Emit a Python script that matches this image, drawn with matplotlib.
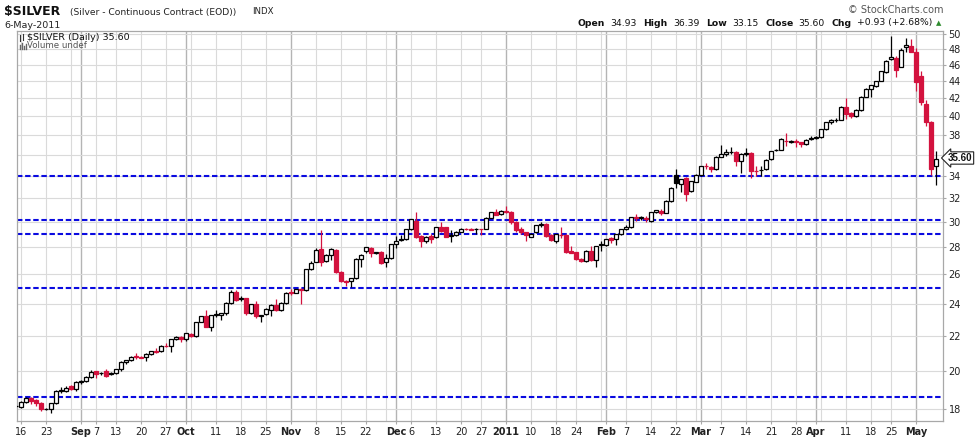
import matplotlib

matplotlib.use("Agg")
import matplotlib.pyplot as plt
import numpy as np
import pandas as pd
from matplotlib.lines import Line2D

# trading calendar (COMEX closes on these US holidays)
holidays = ["2010-09-06", "2010-11-25", "2010-12-24", "2011-01-17", "2011-02-21", "2011-04-22"]
dates = pd.bdate_range("2010-08-13", "2011-05-06")
dates = dates[~dates.isin(pd.to_datetime(holidays))]

opens = [
    # Aug
    18.18, 18.13, 18.37, 18.56, 18.44, 18.33, 17.99, 18.02, 18.32, 18.92, 18.94, 19.18, 19.04,
    # Sep
    19.40, 19.42, 19.66, 19.95, 19.84, 19.95, 19.80, 19.86, 20.06, 20.45, 20.58, 20.80,
    20.76, 20.74, 20.93, 21.10, 21.08, 21.40, 21.38, 21.80, 21.94,
    # Oct
    21.82, 22.10, 21.95, 22.85, 23.20, 22.55, 23.30, 23.28, 23.38, 24.05, 24.75, 24.30,
    24.34, 23.40, 23.95, 23.20, 23.32, 23.60, 23.88, 23.62, 24.04,
    # Nov
    24.75, 24.72, 24.95, 24.90, 26.35, 26.90, 27.82, 26.95, 27.38, 27.78, 26.15, 25.52,
    25.55, 25.72, 27.10, 27.70, 27.95, 27.58, 27.65, 26.85, 27.20,
    # Dec
    28.20, 28.58, 28.62, 29.40, 30.05, 28.85, 28.50, 28.85, 28.75, 29.60, 29.55, 28.85,
    28.90, 29.20, 29.45, 29.42, 29.40, 29.40, 29.45, 30.35, 30.80, 30.65,
    # Jan
    30.92, 30.85, 30.00, 29.40, 29.15, 28.80, 29.20, 29.70, 29.85, 28.95, 28.45, 28.96,
    28.95, 27.70, 27.60, 27.10, 26.95, 27.70, 27.00, 28.15,
    # Feb
    28.16, 28.68, 28.60, 29.05, 29.40, 29.55, 30.40, 30.32, 30.30, 30.05, 30.80, 30.90,
    30.75, 31.75, 34.10, 33.25, 33.80, 32.60, 33.45,
    # Mar
    34.10, 34.90, 34.85, 34.60, 35.80, 36.10, 36.28, 36.30, 35.45, 36.10, 36.20, 34.45,
    34.55, 34.60, 35.55, 36.45, 36.50, 37.40, 37.25, 37.40, 37.25, 37.05, 37.55,
    # Apr
    37.70, 37.80, 38.60, 39.35, 39.60, 39.62, 41.05, 40.30, 40.05, 40.70, 42.20, 43.05,
    43.45, 44.05, 45.10, 46.70, 46.90, 45.80, 48.35, 48.50,
    # May
    47.70, 44.60, 41.30, 39.35, 34.93,
]
highs = [
    18.24, 18.40, 18.62, 18.60, 18.52, 18.36, 18.08, 18.33, 18.98, 19.10, 19.20, 19.22, 19.42,
    19.48, 19.68, 20.05, 20.00, 19.92, 20.08, 19.90, 20.10, 20.50, 20.60, 20.80, 21.00,
    20.82, 20.98, 21.10, 21.25, 21.42, 21.55, 21.82, 22.00, 22.00,
    22.18, 22.14, 22.85, 23.22, 23.60, 23.30, 23.60, 23.40, 24.10, 24.90, 24.90, 24.50,
    24.40, 24.00, 24.20, 23.30, 23.70, 23.95, 24.30, 24.10, 24.75,
    24.95, 25.00, 25.05, 26.40, 26.95, 27.90, 29.35, 27.45, 27.90, 27.85, 26.20, 25.60,
    25.75, 27.15, 27.45, 28.00, 28.00, 27.62, 27.70, 27.48, 28.25,
    28.85, 28.90, 29.42, 30.25, 30.80, 28.90, 28.85, 29.00, 29.60, 29.95, 29.60, 29.30,
    29.25, 29.50, 29.50, 29.48, 29.50, 29.45, 30.40, 30.85, 31.10, 30.95,
    31.30, 30.90, 30.05, 29.60, 29.20, 29.10, 29.75, 29.95, 29.90, 29.00, 29.05, 29.60,
    29.00, 28.05, 27.65, 27.15, 27.75, 28.05, 28.10, 28.45,
    28.62, 28.80, 29.05, 29.45, 29.70, 30.40, 30.65, 30.50, 30.45, 30.85, 31.00, 31.05,
    31.80, 32.95, 34.60, 33.75, 33.90, 33.55, 34.15,
    34.95, 35.20, 34.95, 35.85, 37.00, 36.55, 36.75, 36.40, 36.15, 36.70, 36.30, 34.90,
    34.90, 35.55, 36.40, 36.60, 37.65, 38.20, 37.45, 37.55, 37.30, 37.55, 37.90,
    37.85, 38.65, 39.40, 39.65, 39.80, 41.10, 42.00, 40.50, 40.75, 42.25, 43.15, 43.55,
    44.05, 45.25, 46.60, 49.80, 47.20, 48.20, 49.50, 49.40,
    48.20, 45.20, 41.80, 39.50, 36.39,
]
lows = [
    18.10, 18.08, 18.33, 18.24, 18.16, 17.92, 17.95, 17.82, 18.28, 18.80, 18.85, 18.98, 18.90,
    19.30, 19.38, 19.60, 19.62, 19.78, 19.66, 19.76, 19.80, 20.00, 20.35, 20.50, 20.62,
    20.70, 20.50, 20.88, 20.98, 21.05, 21.30, 21.05, 21.75, 21.62,
    21.70, 21.90, 21.90, 22.80, 22.50, 22.30, 23.15, 22.95, 23.30, 24.00, 24.20, 24.15,
    23.30, 23.35, 23.10, 22.85, 23.25, 23.18, 23.55, 23.55, 23.95,
    24.60, 24.68, 23.95, 24.85, 26.30, 26.85, 26.60, 26.90, 27.00, 26.10, 25.45, 25.20,
    25.10, 25.70, 26.50, 27.55, 27.25, 27.45, 26.75, 26.55, 27.10,
    27.95, 28.50, 28.55, 29.30, 28.70, 28.00, 28.30, 28.30, 28.70, 29.20, 28.75, 28.40,
    28.85, 29.15, 29.30, 29.35, 29.05, 28.95, 29.40, 30.30, 30.55, 30.55,
    30.70, 29.85, 29.20, 29.05, 28.50, 28.75, 29.10, 29.60, 28.80, 28.50, 28.30, 28.70,
    27.55, 27.55, 27.05, 26.85, 26.90, 26.95, 26.55, 27.70,
    28.10, 28.30, 28.15, 28.95, 29.35, 29.50, 30.10, 30.15, 29.95, 29.95, 30.70, 30.60,
    30.70, 31.70, 32.90, 32.50, 31.75, 32.50, 33.40,
    34.00, 34.60, 34.40, 34.55, 35.75, 35.90, 36.10, 34.90, 34.30, 35.90, 33.80, 34.00,
    33.95, 34.55, 35.50, 36.35, 36.45, 36.90, 37.15, 36.80, 36.80, 37.00, 37.45,
    37.55, 37.70, 38.50, 39.20, 39.40, 39.55, 39.75, 39.85, 39.95, 40.60, 42.10, 42.10,
    43.30, 44.00, 45.00, 46.60, 44.50, 45.70, 47.60, 47.60,
    42.80, 41.20, 39.00, 34.10, 33.15,
]
closes = [
    18.15, 18.37, 18.56, 18.42, 18.30, 17.99, 18.02, 18.30, 18.93, 18.96, 19.08, 19.04, 19.40,
    19.44, 19.65, 19.92, 19.82, 19.88, 19.72, 19.86, 20.06, 20.45, 20.58, 20.76, 20.74,
    20.72, 20.93, 21.08, 21.06, 21.38, 21.36, 21.78, 21.94, 21.82,
    22.14, 21.95, 22.82, 23.20, 22.55, 23.25, 23.34, 23.38, 24.05, 24.75, 24.26, 24.34,
    23.40, 23.95, 23.18, 23.26, 23.65, 23.88, 23.62, 24.04, 24.70,
    24.68, 24.95, 24.90, 26.35, 26.82, 27.80, 26.90, 27.38, 27.85, 26.15, 25.50, 25.48,
    25.72, 27.10, 27.40, 27.98, 27.55, 27.60, 26.80, 27.20, 28.20,
    28.50, 28.62, 29.40, 30.20, 28.75, 28.50, 28.80, 28.65, 29.55, 29.25, 28.80, 28.90,
    29.20, 29.40, 29.38, 29.36, 29.42, 29.38, 30.35, 30.80, 30.60, 30.90,
    30.85, 30.00, 29.30, 29.15, 28.90, 29.05, 29.70, 29.85, 28.85, 28.55, 29.00, 28.94,
    27.60, 27.58, 27.10, 26.95, 27.70, 27.00, 28.05, 28.20,
    28.60, 28.58, 29.00, 29.40, 29.55, 30.38, 30.34, 30.36, 30.20, 30.80, 30.95, 30.70,
    31.75, 32.85, 33.30, 33.70, 32.40, 33.50, 34.10,
    34.90, 34.88, 34.60, 35.80, 36.10, 36.25, 36.30, 35.45, 36.10, 36.20, 34.45, 34.42,
    34.58, 35.50, 36.35, 36.50, 37.60, 37.35, 37.40, 37.30, 37.05, 37.50, 37.65,
    37.75, 38.60, 39.35, 39.60, 39.62, 41.05, 40.20, 40.05, 40.70, 42.20, 43.10, 43.50,
    44.00, 45.20, 46.55, 46.95, 45.40, 47.90, 48.55, 47.70,
    43.90, 41.55, 39.35, 34.67, 35.60,
]

# support / resistance lines drawn on the chart
level_lines = [33.96, 30.15, 29.05, 25.07, 18.61]
price_levels = list(range(18, 51, 2))
hidden_level = 36  # covered by the last-price marker

tick_dates = ["2010-08-16", "2010-08-23", "2010-09-01", "2010-09-07", "2010-09-13", "2010-09-20",
              "2010-09-27", "2010-10-01", "2010-10-11", "2010-10-18", "2010-10-25", "2010-11-01",
              "2010-11-08", "2010-11-15", "2010-11-22", "2010-12-01", "2010-12-06", "2010-12-13",
              "2010-12-20", "2010-12-27", "2011-01-03", "2011-01-10", "2011-01-18", "2011-01-24",
              "2011-02-01", "2011-02-07", "2011-02-14", "2011-02-22", "2011-03-01", "2011-03-07",
              "2011-03-14", "2011-03-21", "2011-03-28", "2011-04-01", "2011-04-11", "2011-04-18",
              "2011-04-25", "2011-05-02"]
tick_text = ["16", "23", "Sep", "7", "13", "20", "27", "Oct", "11", "18", "25", "Nov", "8", "15",
             "22", "Dec", "6", "13", "20", "27", "2011", "10", "18", "24", "Feb", "7", "14", "22",
             "Mar", "7", "14", "21", "28", "Apr", "11", "18", "25", "May"]
bold_ticks = {"Sep", "Oct", "Nov", "Dec", "2011", "Feb", "Mar", "Apr", "May"}

header_items = [("Open", "34.93"), ("High", "36.39"), ("Low", "33.15"),
                ("Close", "35.60"), ("Chg", "+0.93 (+2.68%)")]

o = np.array(opens)
h = np.array(highs)
l = np.array(lows)
c = np.array(closes)
assert len(dates) == len(o) == len(h) == len(l) == len(c)
x = np.arange(len(dates))

RED = "#d3123e"
W, H = 975, 438


def fx(px):
    return px / W


def fy(py):
    return 1 - py / H


fig = plt.figure(figsize=(W / 100, H / 100), dpi=100)
fig.patch.set_facecolor("white")
ax = fig.add_axes([fx(17), fy(421), (943 - 17) / W, (421 - 31) / H])
ax.set_yscale("log")
ax.set_ylim(17.43, 50.46)
ax.set_xlim(0.2, len(dates) + 0.4)

# grid: week starts light, month starts darker
prev = None
for i, d in enumerate(dates):
    if prev is not None and d.month != prev.month:
        ax.axvline(i, color="#b4b4b4", lw=1.0, zorder=0)
    elif prev is not None and d.weekday() < prev.weekday():
        ax.axvline(i, color="#dadada", lw=0.8, zorder=0)
    prev = d
for lev in price_levels:
    ax.axhline(lev, color="#dadada", lw=0.8, zorder=0)

for lev in level_lines:
    ax.axhline(lev, color="#0a0ae0", lw=1.5, dashes=(2.6, 1.3), zorder=1)

# candles: fill when close < open, red when close < previous close
prev_close = np.concatenate([[c[0]], c[:-1]])
colors = np.where(c < prev_close, RED, "black")
faces = np.where(c < o, colors, "white")
ax.vlines(x, l, h, colors=colors, lw=0.9, zorder=2)
bottoms = np.minimum(o, c)
heights = np.maximum(np.abs(c - o), 0.005)
ax.bar(x, heights, bottom=bottoms, width=0.62, color=faces, edgecolor=colors,
       linewidth=0.9, zorder=3)

# axes styling
for sp in ax.spines.values():
    sp.set_color("#a8a8a8")
    sp.set_linewidth(0.9)
ax.yaxis.tick_right()
ax.set_yticks(price_levels)
ax.set_yticklabels(["" if v == hidden_level else str(v) for v in price_levels])
ax.yaxis.set_minor_locator(matplotlib.ticker.NullLocator())
ax.tick_params(axis="y", which="major", length=2.5, width=0.8, color="#a8a8a8",
               labelsize=7, labelcolor="#222222", pad=1.5)
tick_idx = [dates.get_loc(pd.Timestamp(t)) for t in tick_dates]
ax.set_xticks(tick_idx)
ax.set_xticklabels(tick_text)
ax.tick_params(axis="x", length=2, width=0.8, color="#a8a8a8", labelsize=7,
               labelcolor="#222222", pad=2)
for lab in ax.get_xticklabels():
    if lab.get_text() in bold_ticks:
        lab.set_fontweight("bold")

# title block
fig.text(fx(4), fy(12), r"\$SILVER", fontsize=9, fontweight="bold", va="center", color="#111111")
fig.text(fx(70), fy(12), "(Silver - Continuous Contract (EOD))", fontsize=6.6, va="center",
         color="#222222")
fig.text(fx(252), fy(12), "INDX", fontsize=6.2, va="center", color="#222222")
fig.text(fx(4), fy(25), "6-May-2011", fontsize=6.8, va="center", color="#222222")
fig.text(fx(943), fy(10), "\u00a9 StockCharts.com", fontsize=7, va="center", ha="right",
         color="#555555")

# quote line, laid out right to left so it ends just before the arrow
renderer = fig.canvas.get_renderer()
cursor = 932.0
fig.text(fx(936), fy(23), "\u25b2", fontsize=5, va="center", color="#2e8b2e")
for label, value in reversed(header_items):
    t = fig.text(fx(cursor), fy(23), value, fontsize=6.7, va="center", ha="right",
                 color="#111111")
    cursor -= t.get_window_extent(renderer).width + 5
    t = fig.text(fx(cursor), fy(23), label, fontsize=6.7, fontweight="bold", va="center",
                 ha="right", color="#111111")
    cursor -= t.get_window_extent(renderer).width + 7

# legend inside the plot
fig.text(fx(27), fy(37.5), r"\$SILVER (Daily) 35.60", fontsize=6.8, va="center",
         color="#111111")
fig.text(fx(27), fy(46), "Volume undef", fontsize=6.2, va="center", color="#555555")
for px, y0, y1 in [(20, 34.5, 40.5), (23, 33.5, 39.5)]:
    fig.add_artist(Line2D([fx(px), fx(px)], [fy(y0), fy(y1)], color="#333333", lw=0.8))
for px, y0 in [(19.5, 44.5), (21.5, 43), (23.5, 45.5), (25.5, 44)]:
    fig.add_artist(Line2D([fx(px), fx(px)], [fy(y0), fy(49)], color="#666666", lw=1.0))

# last price marker
fig.text(fx(948), fy(158), "35.60", fontsize=7, fontweight="bold", va="center",
         color="#111111", family=["Liberation Sans", "DejaVu Sans"],
         bbox=dict(boxstyle="larrow,pad=0.12", fc="white", ec="#222222", lw=0.8))

fig.savefig("out.png", dpi=100)
plt.close(fig)
